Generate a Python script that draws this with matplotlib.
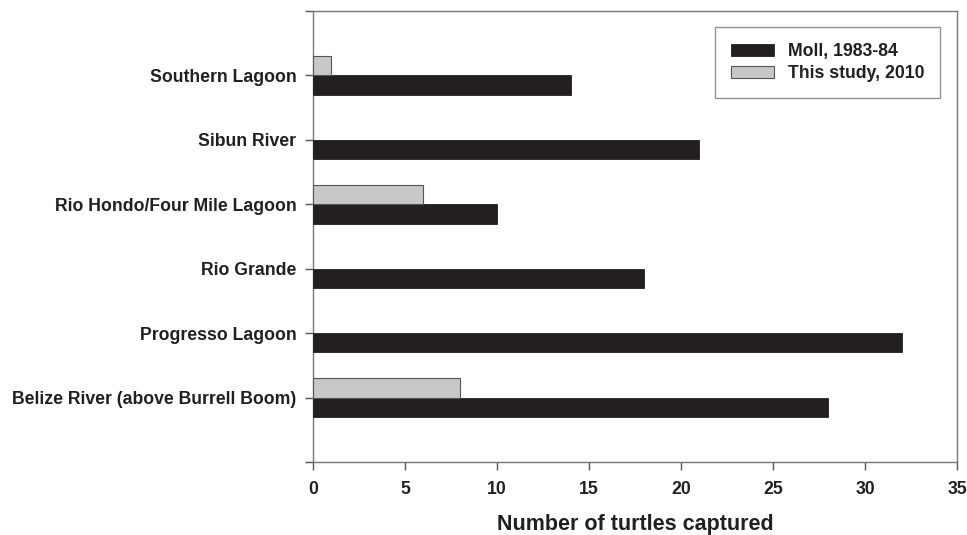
import matplotlib
matplotlib.use("Agg")
import matplotlib.pyplot as plt
import numpy as np

categories = ["Belize River (above Burrell Boom)", "Progresso Lagoon", "Rio Grande",
              "Rio Hondo/Four Mile Lagoon", "Sibun River", "Southern Lagoon"]
moll = [28, 32, 18, 10, 21, 14]
this_study = [8, 0, 0, 6, 0, 1]
xticks = [0, 5, 10, 15, 20, 25, 30, 35]

plt.rcParams['font.family'] = ['Liberation Sans', 'DejaVu Sans']
plt.rcParams['font.weight'] = 'bold'

fig = plt.figure(figsize=(9.67, 5.35), dpi=100)
ax = fig.add_axes([313/967, 1-462/535, (957-313)/967, (462-11)/535])

pos = np.arange(len(categories))
h = 0.3
ax.barh(pos - h/2, moll, height=h, color='#231f20', edgecolor='#231f20', linewidth=0.6,
        label='Moll, 1983-84', zorder=3)
mask = [v > 0 for v in this_study]
ax.barh(pos[mask] + h/2, np.array(this_study)[mask], height=h, color='#c8c8c8',
        edgecolor='#555555', linewidth=0.8, label='This study, 2010', zorder=3)

ax.set_xlim(0, 35)
ax.set_ylim(-1, 6)
ax.set_xticks(xticks)
ax.set_xticklabels([str(x) for x in xticks], fontsize=12.7, fontweight='bold')
ax.set_yticks(list(range(-1, 7)))
ax.set_yticklabels([''] + categories + [''], fontsize=12.7, fontweight='bold')
ax.tick_params(axis='both', direction='out', length=6, width=1, color='#555555', colors='#231f20')
ax.tick_params(axis='x', pad=8)
ax.tick_params(axis='y', pad=6)
for s in ax.spines.values():
    s.set_color('#777777')
    s.set_linewidth(1.0)

ax.set_xlabel('Number of turtles captured', fontsize=15.5, fontweight='bold', color='#231f20', labelpad=11)

leg = ax.legend(loc='upper right', bbox_to_anchor=(0.9736, 0.9645), borderaxespad=0,
                fontsize=12.7, frameon=True,
                fancybox=False, edgecolor='#777777', handlelength=2.4, handleheight=0.7,
                handletextpad=0.8, borderpad=0.9, labelspacing=0.3)
for t in leg.get_texts():
    t.set_fontweight('bold')
    t.set_color('#231f20')

fig.savefig('out.png', dpi=100)
